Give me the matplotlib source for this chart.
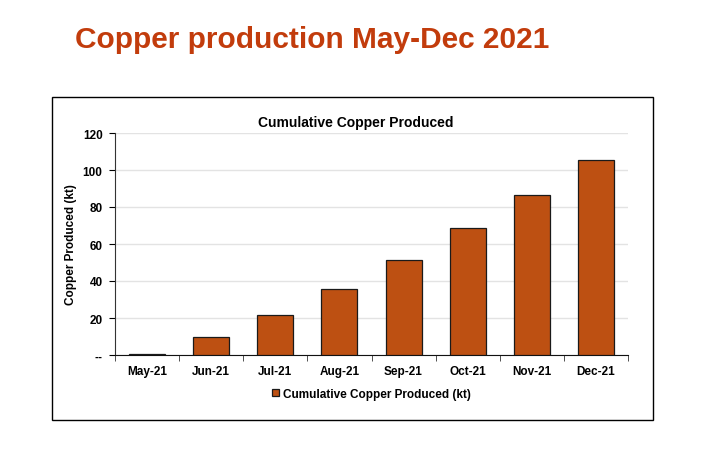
import numpy as np
import matplotlib.pyplot as plt
from matplotlib.patches import Rectangle

months = ['May-21', 'Jun-21', 'Jul-21', 'Aug-21', 'Sep-21', 'Oct-21', 'Nov-21', 'Dec-21']
copper_kt = [0.8, 9.7, 21.6, 35.8, 51.3, 68.9, 86.6, 105.5]
yticks = [0, 20, 40, 60, 80, 100, 120]
ytick_labels = ['--', '20', '40', '60', '80', '100', '120']

plt.rcParams['font.family'] = ['Liberation Sans', 'DejaVu Sans']

fig = plt.figure(figsize=(7.11, 4.64), dpi=100)
W, H = 711, 464

# big slide title
fig.text(75 / W, 1 - 40 / H, 'Copper production May-Dec 2021', fontsize=21.5, fontweight='bold',
         color='#C23C0C', ha='left', va='center')

# chart frame
fig.patches.append(Rectangle((52 / W, 1 - 421 / H), 601 / W, 323 / H, transform=fig.transFigure,
                             fill=False, edgecolor='black', linewidth=1.0))

# chart title is centred on the frame, not the axes
fig.text(356 / W, 1 - 123 / H, 'Cumulative Copper Produced', fontsize=10, fontweight='bold',
         ha='center', va='center')

ax = fig.add_axes([115 / W, 1 - 356 / H, 513 / W, 222 / H])
x = np.arange(len(months))
ax.bar(x, copper_kt, width=0.56, color='#BD5012', edgecolor='#1a1a1a', linewidth=0.9,
       label='Cumulative Copper Produced (kt)', zorder=3)

ax.set_xlim(-0.5, len(months) - 0.5)
ax.set_ylim(0, 120)
ax.set_yticks(yticks)
ax.set_yticklabels(ytick_labels)
ax.set_xticks(x)
ax.set_xticklabels(months)
ax.set_xticks(np.arange(-0.5, len(months), 1), minor=True)
ax.tick_params(axis='x', which='major', length=0, pad=7)
ax.tick_params(axis='x', which='minor', length=4, direction='out', color='#333333')
ax.tick_params(axis='y', length=4, direction='out', pad=5)
for lab in ax.get_xticklabels() + ax.get_yticklabels():
    lab.set_fontweight('bold')
    lab.set_fontsize(8.5)

ax.yaxis.grid(True, color='#e3e3e3', linewidth=1.0, zorder=0)
for s in ['top', 'right']:
    ax.spines[s].set_visible(False)
ax.spines['left'].set_color('#333333')
ax.spines['bottom'].set_color('#111111')

ax.set_ylabel('Copper Produced (kt)', fontsize=8.5, fontweight='bold', labelpad=4)

ax.legend(loc='upper center', bbox_to_anchor=(0.5, -0.1), frameon=False,
          handlelength=0.6, handleheight=0.6, handletextpad=0.3,
          prop={'weight': 'bold', 'size': 8.5})

fig.savefig('out.png', dpi=100)
